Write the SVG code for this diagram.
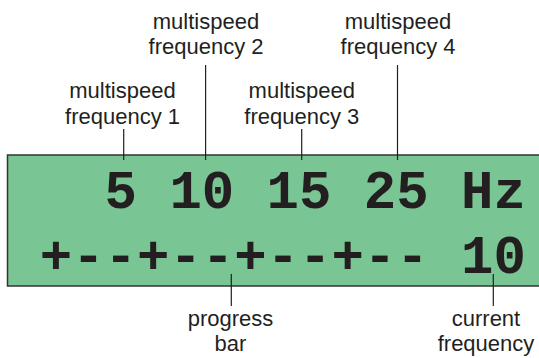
<svg xmlns="http://www.w3.org/2000/svg" width="539" height="358" viewBox="0 0 539 358">
<style>
.lbl{font-family:"Liberation Sans",Arial,sans-serif;font-size:22px;fill:#231f20;text-anchor:middle}
.lcd{font-family:"Liberation Mono","Courier New",monospace;font-weight:bold;font-size:54px;fill:#231f20}
.ln{stroke:#231f20;stroke-width:1.2;fill:none}
</style>
<rect width="539" height="358" fill="#ffffff"/>
<g id="display">
<rect x="7.5" y="155" width="560" height="131" fill="#79c594" stroke="#333333" stroke-width="1.5"/>
<text class="lcd" x="104.6" y="208.4">5 10 15 25 Hz</text>
<text class="lcd" x="39.8" y="273">+--+--+--+-- 10</text>
</g>
<g id="connectors">
<line class="ln" x1="123.7" y1="129" x2="123.7" y2="160"/>
<line class="ln" x1="205.6" y1="65" x2="205.6" y2="160"/>
<line class="ln" x1="301.7" y1="129" x2="301.7" y2="160"/>
<line class="ln" x1="397.5" y1="65" x2="397.5" y2="160"/>
<line class="ln" x1="231.3" y1="274" x2="231.3" y2="306"/>
<line class="ln" x1="493.3" y1="274" x2="493.3" y2="306"/>
</g>
<g id="label-f1"><text class="lbl" x="122.5" y="98">multispeed</text><text class="lbl" x="122.5" y="124">frequency 1</text></g>
<g id="label-f2"><text class="lbl" x="206" y="28.5">multispeed</text><text class="lbl" x="206" y="54.2">frequency 2</text></g>
<g id="label-f3"><text class="lbl" x="301.8" y="98">multispeed</text><text class="lbl" x="301.8" y="124">frequency 3</text></g>
<g id="label-f4"><text class="lbl" x="398" y="28.5">multispeed</text><text class="lbl" x="398" y="54.2">frequency 4</text></g>
<g id="label-progress"><text class="lbl" x="230.5" y="325.5">progress</text><text class="lbl" x="230.5" y="350.5">bar</text></g>
<g id="label-current"><text class="lbl" x="486" y="325.5">current</text><text class="lbl" x="486" y="350.5">frequency</text></g>
</svg>
